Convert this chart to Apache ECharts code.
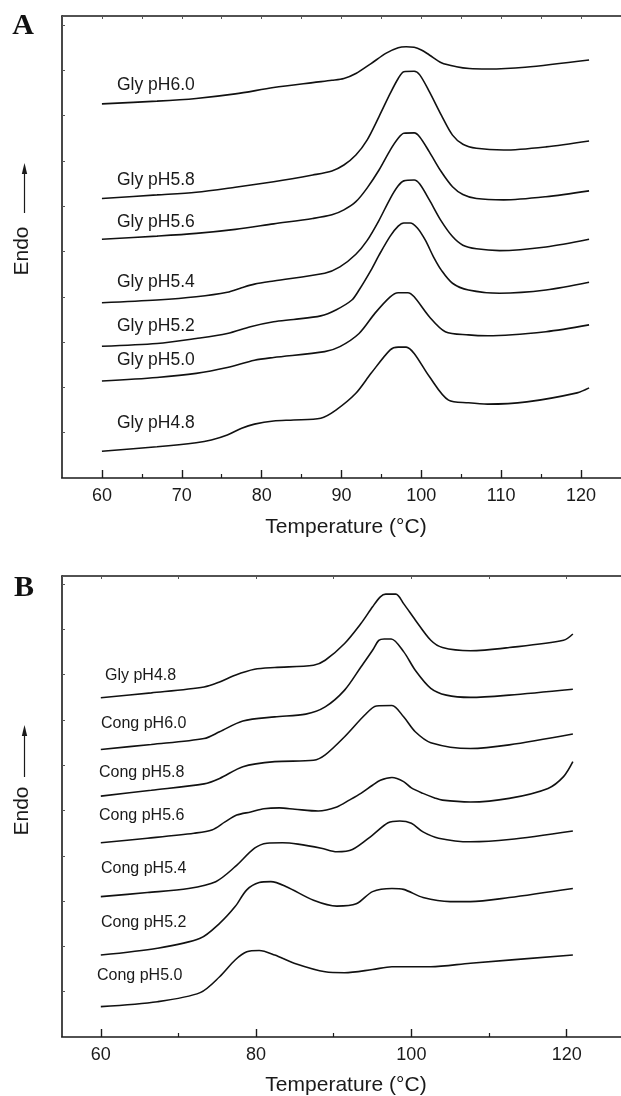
<!DOCTYPE html>
<html>
<head>
<meta charset="utf-8">
<script src="https://cdn.jsdelivr.net/npm/echarts@6/dist/echarts.min.js"></script>
<style>
html,body{margin:0;padding:0;background:#fff;}
#chart{width:621px;height:1096px;}
</style>
</head>
<body>
<div id="chart"></div>
<script>
// ---------- DATA: temperature (°C) vs heat flow (arbitrary units, stacked offsets) ----------
// Panel A: glycinin at different pH
const glyA_60 = [[60,8.26],[66.9,8.32],[71.8,8.38],[76.7,8.48],[81.5,8.62],[86.4,8.73],[88.8,8.78],[90.3,8.82],[91.8,8.93],[93.7,9.15],[95.6,9.38],[97.1,9.50],[98.1,9.52],[99.1,9.51],[100,9.45],[101,9.34],[102.5,9.17],[104.4,9.08],[106,9.04],[108.3,9.03],[113,9.07],[121,9.23]];
const glyA_58 = [[60,6.17],[66.9,6.25],[71.8,6.31],[76.7,6.42],[81.5,6.54],[86.4,6.69],[88.8,6.78],[90.3,6.91],[91.8,7.13],[93.2,7.46],[94.7,7.98],[96.1,8.49],[97.1,8.82],[97.8,8.97],[99.1,8.98],[99.8,8.90],[101,8.53],[102.5,8.01],[103.9,7.57],[105.2,7.37],[106.9,7.28],[110.3,7.24],[115.6,7.31],[121,7.44]];
const glyA_56 = [[60,5.27],[66.9,5.34],[71.8,5.40],[76.7,5.49],[81.5,5.61],[86.4,5.73],[88.8,5.81],[90.3,5.92],[91.8,6.10],[93.2,6.40],[94.7,6.80],[96.1,7.24],[97.1,7.50],[97.8,7.61],[99.1,7.62],[99.8,7.53],[101,7.20],[102.5,6.76],[103.9,6.43],[105.2,6.26],[106.9,6.17],[110.3,6.14],[115.6,6.21],[121,6.34]];
const glyA_54 = [[60,3.87],[66.9,3.93],[71.8,4.00],[75.7,4.10],[77.5,4.20],[79.1,4.28],[81.5,4.35],[87.9,4.52],[89.8,4.66],[91.8,4.94],[93.2,5.24],[94.7,5.69],[96.1,6.17],[97.1,6.45],[97.8,6.56],[99.1,6.58],[99.8,6.49],[101,6.14],[102.5,5.67],[103.9,5.33],[105.2,5.14],[106.9,5.06],[109.8,5.02],[115.6,5.10],[121,5.27]];
const glyA_52 = [[60,2.91],[66.9,2.97],[71.8,3.08],[75.7,3.19],[78.6,3.34],[81.5,3.45],[84,3.50],[87.4,3.58],[89.3,3.71],[91.3,3.93],[92.2,4.15],[93.7,4.59],[94.7,4.92],[96.1,5.34],[97.1,5.56],[97.8,5.63],[98.6,5.63],[99.5,5.52],[100.5,5.25],[101.5,4.89],[102.5,4.59],[103.9,4.30],[105.9,4.15],[109.8,4.08],[115.6,4.15],[121,4.32]];
const glyA_50 = [[60,2.14],[66.9,2.22],[71.8,2.31],[75.7,2.44],[79.1,2.60],[81.5,2.66],[87.9,2.79],[89.8,2.90],[92.2,3.19],[94.2,3.64],[96.1,4.00],[97.1,4.09],[98.3,4.09],[99.1,4.00],[101,3.56],[103,3.23],[105.9,3.16],[108.3,3.14],[115.6,3.23],[121,3.38]];
const glyA_48 = [[60,0.59],[66.9,0.69],[71.8,0.78],[73.7,0.84],[75.7,0.95],[77.5,1.10],[79.1,1.19],[81.5,1.26],[84,1.28],[87.4,1.32],[89.3,1.50],[91.8,1.87],[93.7,2.31],[96.1,2.83],[97.1,2.89],[98.1,2.89],[99.1,2.75],[101,2.24],[103.4,1.72],[105.9,1.66],[108.3,1.63],[113.2,1.68],[119.5,1.88],[121,1.99]];

// Panel B: conglycinin at different pH (plus glycinin pH4.8)
const glyB_48 = [[60,7.49],[66.5,7.60],[73.3,7.73],[75.3,7.84],[77.3,7.99],[79.8,8.12],[82.4,8.16],[87.4,8.21],[88.9,8.32],[91.4,8.69],[93.5,9.13],[95,9.50],[96,9.72],[96.7,9.78],[98,9.78],[99,9.57],[100.5,9.21],[102.5,8.76],[104,8.60],[107.6,8.53],[112.6,8.60],[119.6,8.76],[120.8,8.90]];
const congB_60 = [[60,6.35],[66.5,6.46],[73.3,6.59],[75.3,6.74],[78.3,6.98],[82.4,7.07],[86.4,7.13],[88.9,7.29],[91.4,7.66],[93.5,8.17],[95,8.54],[95.8,8.76],[96.5,8.79],[97.4,8.79],[99,8.51],[100.5,8.10],[102.5,7.70],[104.5,7.55],[107.6,7.50],[112.6,7.55],[120.8,7.68]];
const congB_58 = [[60,5.32],[66.5,5.45],[73.3,5.59],[75.3,5.71],[78.3,5.97],[82.4,6.08],[87.4,6.11],[88.9,6.23],[91.4,6.63],[94,7.11],[95.5,7.31],[97.5,7.32],[99,7.07],[100.5,6.74],[102.5,6.50],[107.6,6.37],[112.6,6.45],[120.8,6.69]];
const congB_56 = [[60,4.29],[66,4.39],[72,4.50],[74.3,4.57],[76,4.75],[77.5,4.90],[79.3,4.97],[81,5.04],[83,5.06],[85,5.03],[88,4.99],[90.4,5.08],[92,5.23],[93.5,5.38],[95,5.56],[96,5.67],[97.5,5.73],[99,5.64],[100,5.50],[101.5,5.38],[103,5.28],[104,5.23],[107.6,5.19],[112.6,5.27],[117.6,5.49],[119.6,5.75],[120.8,6.08]];
const congB_54 = [[60,3.10],[66,3.19],[71.3,3.28],[74.8,3.43],[77.3,3.76],[79.8,4.17],[81.4,4.28],[83.4,4.29],[85.4,4.26],[88.4,4.17],[90.4,4.09],[92.4,4.14],[95,4.46],[97,4.73],[98.5,4.77],[100,4.72],[101.5,4.53],[103.5,4.39],[107.6,4.31],[112.6,4.36],[120.8,4.55]];
const congB_52 = [[60,1.81],[67.3,1.96],[72.8,2.18],[75.3,2.51],[77.3,2.88],[78.8,3.25],[80.4,3.41],[81.9,3.43],[83.9,3.32],[87.4,3.02],[90.4,2.89],[92.9,2.94],[95,3.21],[97.5,3.28],[99,3.26],[101.5,3.08],[105,2.99],[107.6,2.99],[112.6,3.08],[120.8,3.28]];
const congB_50 = [[60,0.67],[67.3,0.78],[72.8,0.98],[75.3,1.33],[77.3,1.70],[78.8,1.88],[80.4,1.91],[82.4,1.81],[84.9,1.63],[88.9,1.44],[91.4,1.42],[95,1.49],[97.5,1.55],[102.5,1.55],[107.6,1.63],[120.8,1.81]];

// Series names / curve labels
const namesA = ['Gly pH6.0','Gly pH5.8','Gly pH5.6','Gly pH5.4','Gly pH5.2','Gly pH5.0','Gly pH4.8'];
const namesB = ['Gly pH4.8','Cong pH6.0','Cong pH5.8','Cong pH5.6','Cong pH5.4','Cong pH5.2','Cong pH5.0'];
const seriesA = [glyA_60, glyA_58, glyA_56, glyA_54, glyA_52, glyA_50, glyA_48];
const seriesB = [glyB_48, congB_60, congB_58, congB_56, congB_54, congB_52, congB_50];

// Tick values
const ticksA_major = [60,70,80,90,100,110,120];
const ticksA_minor = [65,75,85,95,105,115];
const ticksA_top = [60,65,70,75,80,85,90,95,100,105,110,115,120];
const ticksB_major = [60,80,100,120];
const ticksB_minor = [70,90,110];
const ticksB_top = [60,70,80,90,100,110,120];

// ---------- LAYOUT ----------
const FONT = '"Liberation Sans", Arial, Helvetica, sans-serif';
const INK = '#1a1a1a';
// label anchor positions (pixels, layout only)
const labelPosA = {x:117, y:[85,180,222,282,326,360,423]};
const labelPosB = {x:[105,101,99,99,101,101,97], y:[676,724,773,816,869,923,976]};

const chart = echarts.init(document.getElementById('chart'), null, {renderer:'canvas'});

function mainX(grid, min, max, major) {
  return {
    gridIndex: grid, type:'value', min:min, max:max, position:'bottom',
    axisLine:{show:true, lineStyle:{color:INK, width:1.6}},
    axisTick:{show:true, customValues:major, inside:true, length:8, lineStyle:{color:INK, width:1.4}},
    axisLabel:{show:true, customValues:major, fontSize:18, color:INK, fontFamily:FONT, margin:9},
    splitLine:{show:false}
  };
}
function minorX(grid, min, max, vals) {
  return {
    gridIndex: grid, type:'value', min:min, max:max, position:'bottom',
    axisLine:{show:false},
    axisTick:{show:true, customValues:vals, inside:true, length:4, lineStyle:{color:INK, width:1.2}},
    axisLabel:{show:false}, splitLine:{show:false}
  };
}
function topX(grid, min, max, vals) {
  return {
    gridIndex: grid, type:'value', min:min, max:max, position:'top',
    axisLine:{show:true, lineStyle:{color:INK, width:1.6}},
    axisTick:{show:true, customValues:vals, inside:true, length:3, lineStyle:{color:'#555', width:1}},
    axisLabel:{show:false}, splitLine:{show:false}
  };
}
function leftY(grid, max) {
  return {
    gridIndex: grid, type:'value', min:0, max:max, interval:1,
    axisLine:{show:true, lineStyle:{color:INK, width:1.6}},
    axisTick:{show:true, inside:true, length:3, lineStyle:{color:'#555', width:1}},
    axisLabel:{show:false}, splitLine:{show:false}
  };
}

const series = [];
seriesA.forEach((d,i)=>{
  series.push({name:namesA[i], type:'line', xAxisIndex:0, yAxisIndex:0, data:d,
    showSymbol:false, smooth:0.3,
    lineStyle:{color:'#111', width:1.6}, silent:true});
});
seriesB.forEach((d,i)=>{
  series.push({name:namesB[i], type:'line', xAxisIndex:3, yAxisIndex:1, data:d,
    showSymbol:false, smooth:0.3,
    lineStyle:{color:'#111', width:1.6}, silent:true});
});

const graphics = [];
namesA.forEach((n,i)=>{
  graphics.push({type:'text', x:labelPosA.x, y:labelPosA.y[i], silent:true,
    style:{text:n, font:'17.5px ' + FONT, fill:INK, textAlign:'left', textVerticalAlign:'middle'}});
});
namesB.forEach((n,i)=>{
  graphics.push({type:'text', x:labelPosB.x[i], y:labelPosB.y[i], silent:true,
    style:{text:n, font:'16px ' + FONT, fill:INK, textAlign:'left', textVerticalAlign:'middle'}});
});
// panel letters
graphics.push({type:'text', x:23, y:26, style:{text:'A', font:'bold 30px "Liberation Serif", "Times New Roman", serif', fill:'#111', textAlign:'center', textVerticalAlign:'middle'}});
graphics.push({type:'text', x:24, y:588, style:{text:'B', font:'bold 30px "Liberation Serif", "Times New Roman", serif', fill:'#111', textAlign:'center', textVerticalAlign:'middle'}});
// axis titles
graphics.push({type:'text', x:346, y:527, style:{text:'Temperature (°C)', font:'21px ' + FONT, fill:INK, textAlign:'center', textVerticalAlign:'middle'}});
graphics.push({type:'text', x:346, y:1085, style:{text:'Temperature (°C)', font:'21px ' + FONT, fill:INK, textAlign:'center', textVerticalAlign:'middle'}});
// Endo + arrows
[{ty:251, a0:213, a1:163},{ty:811, a0:777, a1:725}].forEach(o=>{
  graphics.push({type:'text', x:22, y:o.ty, rotation:Math.PI/2,
    style:{text:'Endo', font:'21px ' + FONT, fill:INK, textAlign:'center', textVerticalAlign:'middle'}});
  graphics.push({type:'line', shape:{x1:24.5, y1:o.a0, x2:24.5, y2:o.a1+8}, style:{stroke:INK, lineWidth:1.2}});
  graphics.push({type:'polygon', shape:{points:[[24.5,o.a1],[21.8,o.a1+11],[27.2,o.a1+11]]}, style:{fill:INK}});
});

chart.setOption({
  animation:false,
  backgroundColor:'#fff',
  grid:[
    {left:62, top:16, width:568.4, height:462},
    {left:62, top:576, width:564.5, height:461}
  ],
  xAxis:[
    mainX(0,55,125,ticksA_major), minorX(0,55,125,ticksA_minor), topX(0,55,125,ticksA_top),
    mainX(1,55,127,ticksB_major), minorX(1,55,127,ticksB_minor), topX(1,55,127,ticksB_top)
  ],
  yAxis:[ leftY(0,10.2), leftY(1,10.18) ],
  series: series,
  graphic: graphics
});
</script>
</body>
</html>
